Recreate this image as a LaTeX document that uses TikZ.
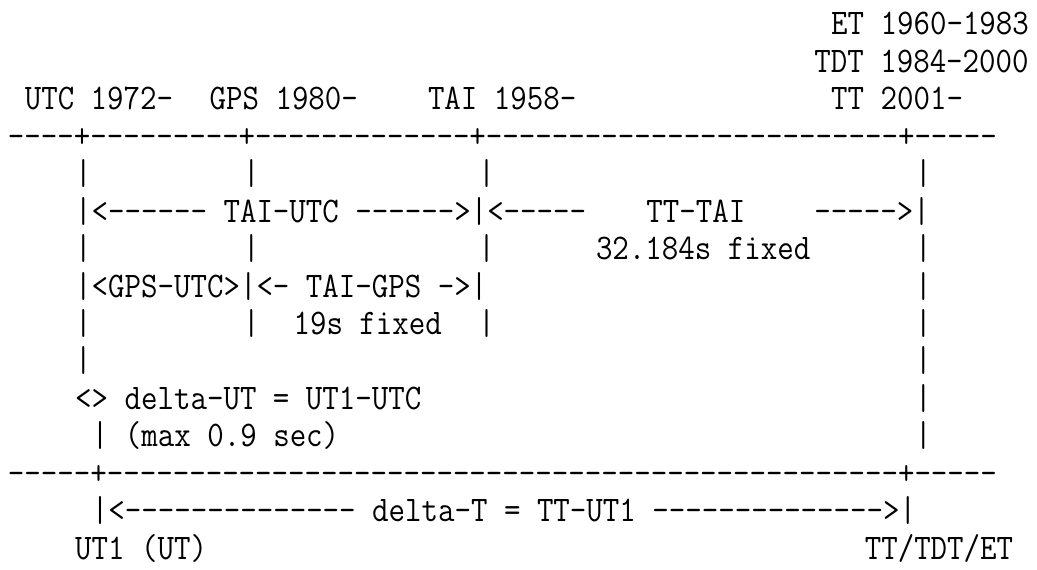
\documentclass[tikz,border=0pt]{standalone}
\usepackage{graphicx}
\usetikzlibrary{positioning}
% narrow the typewriter cells to the reference's column width
\newcommand\mono[1]{\scalebox{0.889}[1]{#1}}

\begin{document}
\begin{tikzpicture}[
    x=8.4pt, y=-18.715pt,
    asc/.style={anchor=base west, inner sep=0pt, outer sep=0pt, font=\fontsize{18}{18}\selectfont\ttfamily}
]
    \useasboundingbox (0,0) rectangle (61.726,15.202);
    \begin{scope}[shift={(0.476,0.935)}]
    % epochs above the top axis
    \node[asc] (et)  at (49,0) {\mono{ET 1960-1983}};
    \node[asc] (tdt) at (48,1) {\mono{TDT 1984-2000}};
    \node[asc] (utc) at (1,2)  {\mono{UTC 1972-}};
    \node[asc] (gps) at (12,2) {\mono{GPS 1980-}};
    \node[asc] (tai) at (25,2) {\mono{TAI 1958-}};
    \node[asc] (tt)  at (49,2) {\mono{TT 2001-}};
    \node[asc] (topaxis) at (0,3) {\mono{----+---------+-------------+-------------------------+-----}};
    % vertical bars
    \foreach \r/\c in {4/4, 4/14, 4/28, 4/54, 6/4, 6/14, 6/28, 6/54, 7/54,
                       8/4, 8/14, 8/28, 8/54, 9/4, 9/54, 10/54, 11/54}
        \node[asc] (bar-\r-\c) at (\c,\r) {\mono{|}};
    % offsets
    \node[asc] (taiutc) at (4,5)  {\mono{|<------ TAI-UTC ------>|<-----}};
    \node[asc] (tttai)  at (38,5) {\mono{TT-TAI}};
    \node[asc] (ttend)  at (48,5) {\mono{----->|}};
    \node[asc] (fixtt)  at (35,6) {\mono{32.184s fixed}};
    \node[asc] (gpsutc) at (4,7)  {\mono{|<GPS-UTC>|<- TAI-GPS ->|}};
    \node[asc] (fixgps) at (17,8) {\mono{19s fixed}};
    \node[asc] (dut)    at (4,10) {\mono{<> delta-UT = UT1-UTC}};
    \node[asc] (dutmax) at (5,11) {\mono{| (max 0.9 sec)}};
    % bottom axis
    \node[asc] (botaxis) at (0,12) {\mono{-----+------------------------------------------------+-----}};
    \node[asc] (deltat)  at (5,13) {\mono{|<-------------- delta-T = TT-UT1 -------------->|}};
    \node[asc] (ut1)  at (4,14)  {\mono{UT1 (UT)}};
    \node[asc] (tdtet) at (51,14) {\mono{TT/TDT/ET}};
    \end{scope}
\end{tikzpicture}
\end{document}
